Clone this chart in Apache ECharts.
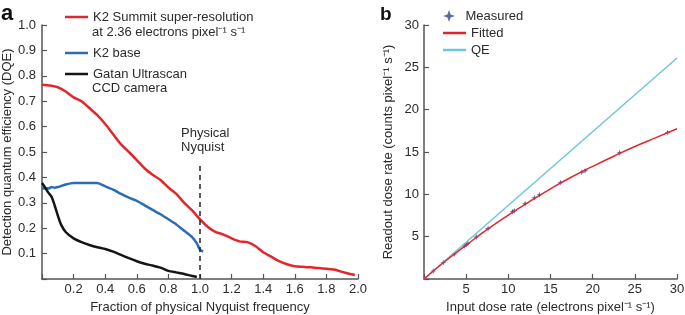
<!DOCTYPE html>
<html>
<head>
<meta charset="utf-8">
<script src="https://cdn.jsdelivr.net/npm/echarts@6/dist/echarts.min.js"></script>
<style>
html, body { margin: 0; padding: 0; background: #fff; }
#chart { width: 685px; height: 315px; }
</style>
</head>
<body>
<div id="chart"></div>
<script>
// panel a: DQE vs fraction of physical Nyquist frequency
const redX = [0, 0.05, 0.1, 0.15, 0.2, 0.25, 0.3, 0.35, 0.4, 0.45, 0.5, 0.55, 0.6, 0.65, 0.7, 0.75, 0.8, 0.85, 0.9, 0.95,
    1.0, 1.05, 1.1, 1.15, 1.2, 1.25, 1.3, 1.35, 1.4, 1.45, 1.5, 1.55, 1.6, 1.65, 1.7, 1.75, 1.8, 1.85, 1.9, 1.95, 1.98]
const redY = [0.765, 0.762, 0.755, 0.738, 0.715, 0.70, 0.673, 0.645, 0.61, 0.57, 0.53, 0.50, 0.468, 0.435, 0.41, 0.39, 0.36, 0.335, 0.30, 0.27,
    0.235, 0.205, 0.185, 0.175, 0.16, 0.148, 0.145, 0.13, 0.105, 0.088, 0.07, 0.058, 0.05, 0.048, 0.046, 0.043, 0.04, 0.037, 0.028, 0.02, 0.016]
const blueX = [0, 0.02, 0.04, 0.06, 0.08, 0.1, 0.15, 0.2, 0.25, 0.3, 0.35, 0.4, 0.45, 0.5, 0.55, 0.6, 0.65, 0.7, 0.75, 0.8, 0.85, 0.9, 0.95, 0.98, 1.0, 1.02]
const blueY = [0.355, 0.358, 0.356, 0.362, 0.359, 0.362, 0.372, 0.378, 0.378, 0.378, 0.378, 0.365, 0.352, 0.335, 0.32, 0.308, 0.29, 0.272, 0.255, 0.235, 0.215, 0.19, 0.165, 0.14, 0.115, 0.108]
const blackX = [0, 0.02, 0.04, 0.06, 0.08, 0.1, 0.12, 0.15, 0.2, 0.25, 0.3, 0.35, 0.4, 0.45, 0.5, 0.55, 0.6, 0.65, 0.7, 0.75, 0.8, 0.85, 0.9, 0.95, 0.98]
const blackY = [0.378, 0.36, 0.34, 0.325, 0.29, 0.25, 0.215, 0.185, 0.16, 0.145, 0.134, 0.125, 0.118, 0.108, 0.095, 0.082, 0.07, 0.06, 0.053, 0.045, 0.032, 0.026, 0.02, 0.012, 0.008]
const nyquistX = [1.0, 1.0]
const nyquistY = [0, 0.46]

// panel b: readout vs input dose rate
const measuredX = [1.1, 2.3, 3.6, 4.8, 5.0, 5.2, 6.2, 7.6, 10.5, 10.7, 12.0, 13.1, 13.7, 16.2, 18.7, 19.1, 23.2, 28.9]
const measuredY = [0.95, 1.95, 2.95, 3.9, 4.05, 4.2, 4.95, 5.95, 7.95, 8.05, 8.9, 9.6, 9.95, 11.4, 12.6, 12.8, 14.9, 17.3]
const fittedX = [0, 2.5, 5, 7.5, 10, 12.5, 15, 17.5, 20, 22.5, 25, 27.5, 30]
const fittedY = [0, 2.1, 4.0, 5.85, 7.55, 9.15, 10.65, 12.05, 13.3, 14.5, 15.65, 16.7, 17.75]
const qeX = [0, 30]
const qeY = [0, 26.1]

const zip = (xs, ys) => xs.map((x, i) => [x, ys[i]])

const FONT = "'Liberation Sans', Arial, sans-serif"
const TXT = '#2b2b2b'
const AXC = '#555'
const star = 'path://M0,-10 L2.6,-2.6 L10,0 L2.6,2.6 L0,10 L-2.6,2.6 L-10,0 L-2.6,-2.6 Z'

const noZero = v => (v === 0 ? '' : v)

const baseAxis = (extra) => Object.assign({
    type: 'value',
    splitLine: { show: false },
    axisLine: { show: true, lineStyle: { color: AXC, width: 1.5 } },
    axisTick: { show: true, inside: true, length: 5, lineStyle: { color: AXC, width: 1.2 } },
    nameLocation: 'middle',
    nameTextStyle: { color: TXT, fontSize: 13, fontFamily: FONT }
}, extra)

const chart = echarts.init(document.getElementById('chart'))

const legendBase = {
    padding: 0,
    icon: 'rect',
    itemWidth: 23,
    itemHeight: 2.5,
    itemGap: 3,
    textStyle: { color: TXT, fontSize: 13, fontFamily: FONT, lineHeight: 14 }
}

const option = {
    animation: false,
    backgroundColor: '#fff',
    grid: [
        { left: 42, top: 25, width: 316, height: 254, outerBoundsMode: 'none', containLabel: false },
        { left: 424, top: 25, width: 253, height: 254, outerBoundsMode: 'none', containLabel: false }
    ],
    xAxis: [
        baseAxis({
            gridIndex: 0, min: 0, max: 2, interval: 0.2,
            name: 'Fraction of physical Nyquist frequency', nameGap: 16,
            axisLabel: { color: TXT, fontSize: 13, fontFamily: FONT, margin: 4, formatter: v => (v === 0 ? '' : v.toFixed(1)) }
        }),
        baseAxis({
            gridIndex: 1, min: 0, max: 30, interval: 5,
            name: 'Input dose rate (electrons pixel\u207B\u00B9 s\u207B\u00B9)', nameGap: 16,
            axisLabel: { color: TXT, fontSize: 13, fontFamily: FONT, margin: 4, formatter: noZero }
        })
    ],
    yAxis: [
        baseAxis({
            gridIndex: 0, min: 0, max: 1, interval: 0.1,
            name: 'Detection quantum efficiency (DQE)', nameGap: 27,
            axisLabel: { color: TXT, fontSize: 13, fontFamily: FONT, margin: 6, formatter: v => (v === 0 ? '' : v.toFixed(1)) }
        }),
        baseAxis({
            gridIndex: 1, min: 0, max: 30, interval: 5,
            name: 'Readout dose rate (counts pixel\u207B\u00B9 s\u207B\u00B9)', nameGap: 29,
            axisLabel: { color: TXT, fontSize: 13, fontFamily: FONT, margin: 5, formatter: noZero }
        })
    ],
    legend: [
        Object.assign({}, legendBase, { left: 65, top: 10, textGap: 4, data: ['K2 Summit super-resolution'] }),
        Object.assign({}, legendBase, { left: 65, top: 46, textGap: 4, data: ['K2 base'] }),
        Object.assign({}, legendBase, { left: 65, top: 67, textGap: 4, data: ['Gatan Ultrascan'] }),
        Object.assign({}, legendBase, {
            left: 443, top: 9, icon: star, itemHeight: 12, textGap: 7,
            data: ['Measured']
        }),
        Object.assign({}, legendBase, {
            left: 443, top: 26, orient: 'vertical', textGap: 7,
            data: ['Fitted', 'QE']
        })
    ],
    graphic: [
        { type: 'text', left: 1, top: 3, style: { text: 'a', fontSize: 22, fontWeight: 'bold', fontFamily: FONT, fill: '#111' } },
        { type: 'text', left: 380, top: 5, style: { text: 'b', fontSize: 19, fontWeight: 'bold', fontFamily: FONT, fill: '#111' } },
        { type: 'text', left: 92, top: 26, style: { text: 'at 2.36 electrons pixel\u207B\u00B9 s\u207B\u00B9', fontSize: 13, fontFamily: FONT, fill: TXT } },
        { type: 'text', left: 92, top: 82, style: { text: 'CCD camera', fontSize: 13, fontFamily: FONT, fill: TXT } },
        { type: 'text', left: 181, top: 126, style: { text: 'Physical\nNyquist', fontSize: 13, lineHeight: 14, fontFamily: FONT, fill: TXT } }
    ],
    series: [
        {
            name: 'K2 Summit super-resolution', type: 'line', xAxisIndex: 0, yAxisIndex: 0,
            data: zip(redX, redY), symbol: 'none', smooth: 0.2,
            lineStyle: { color: '#e3262b', width: 2.5 }, itemStyle: { color: '#e3262b' }
        },
        {
            name: 'K2 base', type: 'line', xAxisIndex: 0, yAxisIndex: 0,
            data: zip(blueX, blueY), symbol: 'none', smooth: 0.2,
            lineStyle: { color: '#2b6cb3', width: 2.5 }, itemStyle: { color: '#2b6cb3' }
        },
        {
            name: 'Gatan Ultrascan', type: 'line', xAxisIndex: 0, yAxisIndex: 0,
            data: zip(blackX, blackY), symbol: 'none', smooth: 0.2,
            lineStyle: { color: '#151515', width: 2.5 }, itemStyle: { color: '#151515' }
        },
        {
            name: 'nyquist', type: 'line', xAxisIndex: 0, yAxisIndex: 0,
            data: zip(nyquistX, nyquistY), symbol: 'none',
            lineStyle: { color: '#222', width: 1.5, type: [5, 4] }
        },
        {
            name: 'QE', type: 'line', xAxisIndex: 1, yAxisIndex: 1,
            data: zip(qeX, qeY), symbol: 'none',
            lineStyle: { color: '#6fc6d9', width: 1.5 }, itemStyle: { color: '#6fc6d9' }
        },
        {
            name: 'Fitted', type: 'line', xAxisIndex: 1, yAxisIndex: 1,
            data: zip(fittedX, fittedY), symbol: 'none', smooth: true,
            lineStyle: { color: '#e3262b', width: 1.5 }, itemStyle: { color: '#e3262b' }
        },
        {
            name: 'Measured', type: 'scatter', xAxisIndex: 1, yAxisIndex: 1,
            data: zip(measuredX, measuredY), symbol: star, symbolSize: 6, symbolKeepAspect: true,
            itemStyle: { color: '#34428f' }
        }
    ]
}

chart.setOption(option)
</script>
</body>
</html>
